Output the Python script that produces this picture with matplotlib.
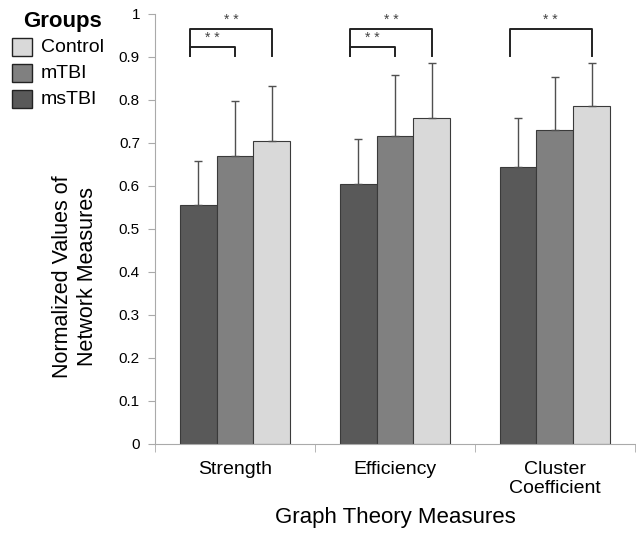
import matplotlib

matplotlib.use("Agg")
import matplotlib.pyplot as plt
import numpy as np
from matplotlib.patches import Rectangle

plt.rcParams["font.family"] = ["Liberation Sans", "DejaVu Sans"]

categories = ["Strength", "Efficiency", "Cluster\nCoefficient"]
groups = ["msTBI", "mTBI", "Control"]
means = {
    "msTBI": [0.555, 0.605, 0.643],
    "mTBI": [0.670, 0.716, 0.730],
    "Control": [0.705, 0.757, 0.785],
}
errors = {
    "msTBI": [0.102, 0.105, 0.114],
    "mTBI": [0.128, 0.142, 0.123],
    "Control": [0.128, 0.128, 0.100],
}
colors = {"msTBI": "#595959", "mTBI": "#808080", "Control": "#D9D9D9"}

# significance brackets: (category index, group a, group b, bracket level)
brackets = [
    (0, 0, 2, 0.965),
    (0, 0, 1, 0.923),
    (1, 0, 2, 0.965),
    (1, 0, 1, 0.923),
    (2, 0, 2, 0.965),
]

fig = plt.figure(figsize=(6.36, 5.33), dpi=100)
ax = fig.add_axes([0.244, 0.167, 0.754, 0.807])

x = np.arange(len(categories))
width = 0.23
offsets = [-width, 0, width]
for g, off in zip(groups, offsets):
    ax.bar(x + off, means[g], width, color=colors[g], edgecolor="#3a3a3a",
           linewidth=0.8, zorder=2)
    ax.errorbar(x + off, means[g], yerr=[np.zeros(3), errors[g]], fmt="none",
                ecolor="#505050", elinewidth=1.0, capsize=3, capthick=1.0, zorder=3)

for ci, a, b, top in brackets:
    xa = x[ci] + offsets[a] - 0.05
    xb = x[ci] + offsets[b]
    ax.plot([xa, xa, xb, xb], [0.902, top, top, 0.902], color="#222222",
            linewidth=1.4, zorder=4, clip_on=False)
    ax.text((xa + xb) / 2, top + 0.004, "* *", ha="center", va="bottom",
            fontsize=10, color="#444444")

ax.set_xlim(-0.5, 2.5)
ax.set_ylim(0, 1)
ax.set_yticks(np.arange(0, 1.01, 0.1))
ax.set_yticklabels(["0"] + [f"{v:.1f}" for v in np.arange(0.1, 0.95, 0.1)] + ["1"])
ax.set_xticks(x)
ax.set_xticklabels(categories, fontsize=14)
ax.set_xticks([-0.5, 0.5, 1.5, 2.5], minor=True)
ax.tick_params(axis="x", which="major", length=0, pad=12)
ax.tick_params(axis="x", which="minor", length=6, color="#aaaaaa")
ax.tick_params(axis="y", length=5, color="#aaaaaa", labelsize=11, pad=6)

for side in ["top", "right"]:
    ax.spines[side].set_visible(False)
ax.spines["left"].set_color("#aaaaaa")
ax.spines["bottom"].set_color("#aaaaaa")

ax.set_ylabel("Normalized Values of\nNetwork Measures", fontsize=15.5)
ax.yaxis.set_label_coords(-0.12, 0.39)
ax.set_xlabel("Graph Theory Measures", fontsize=16, labelpad=7)

# legend drawn by hand in figure coordinates
W, H = 636, 533
fig.text(23 / W, 1 - 21 / H, "Groups", fontsize=16, fontweight="bold",
         ha="left", va="center")
for i, g in enumerate(["Control", "mTBI", "msTBI"]):
    yc = 47 + i * 26
    fig.patches.append(Rectangle((12 / W, 1 - (yc + 9) / H), 20 / W, 18 / H,
                                 transform=fig.transFigure, facecolor=colors[g],
                                 edgecolor="#222222", linewidth=1.0))
    fig.text(41 / W, 1 - yc / H, g, fontsize=14, ha="left", va="center")

fig.savefig("out.png", dpi=100)
